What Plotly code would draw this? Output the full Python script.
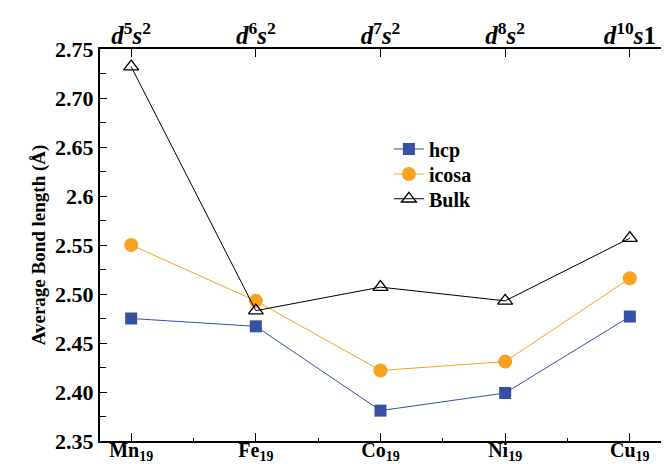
import plotly.graph_objects as go

categories = ["Mn<sub>19</sub>", "Fe<sub>19</sub>", "Co<sub>19</sub>", "Ni<sub>19</sub>", "Cu<sub>19</sub>"]
top_labels = ["<i>d</i><sup>5</sup><i>s</i><sup>2</sup>", "<i>d</i><sup>6</sup><i>s</i><sup>2</sup>",
              "<i>d</i><sup>7</sup><i>s</i><sup>2</sup>", "<i>d</i><sup>8</sup><i>s</i><sup>2</sup>",
              "<i>d</i><sup>10</sup><i>s</i>1"]
hcp = [2.475, 2.467, 2.381, 2.399, 2.477]
icosa = [2.550, 2.493, 2.422, 2.431, 2.516]
bulk = [2.732, 2.483, 2.507, 2.493, 2.557]
ytick_vals = [2.35, 2.40, 2.45, 2.50, 2.55, 2.60, 2.65, 2.70, 2.75]
ytick_text = ["2.35", "2.40", "2.45", "2.50", "2.55", "2.6", "2.65", "2.70", "2.75"]

xi = list(range(len(categories)))
FONT = "Liberation Serif"

fig = go.Figure()
fig.add_trace(go.Scatter(x=xi, y=hcp, name="hcp", mode="lines+markers", legend="legend",
                         line=dict(color="#3550a5", width=1),
                         marker=dict(symbol="square", size=12, color="#3550a5")))
fig.add_trace(go.Scatter(x=xi, y=icosa, name="icosa", mode="lines+markers", legend="legend2",
                         line=dict(color="#f8a21d", width=1),
                         marker=dict(symbol="circle", size=14, color="#f8a21d")))
fig.add_trace(go.Scatter(x=xi, y=bulk, name="Bulk", mode="lines+markers", legend="legend3",
                         line=dict(color="black", width=1),
                         marker=dict(symbol="triangle-up-open", size=13, color="black",
                                     line=dict(width=1.3, color="black"))))

leg_common = dict(x=0.515, xanchor="left", yanchor="middle", bgcolor="rgba(0,0,0,0)",
                  font=dict(size=20, family=FONT, weight="bold", color="black"),
                  itemsizing="trace", itemwidth=30)

fig.update_layout(
    width=669, height=464, autosize=False,
    margin=dict(l=92, r=16, t=41, b=31, pad=0),
    plot_bgcolor="white", paper_bgcolor="white",
    font=dict(family=FONT, size=20, color="black", weight="bold"),
    showlegend=True,
    legend=dict(y=0.745, **leg_common),
    legend2=dict(y=0.681, **leg_common),
    legend3=dict(y=0.618, **leg_common),
    xaxis=dict(range=[-0.25, 4.25], tickvals=xi, ticktext=categories, automargin=False,
               showline=True, linecolor="black", linewidth=2, mirror=False,
               ticks="inside", ticklen=8, tickwidth=1.3, tickcolor="black",
               showgrid=False, zeroline=False, ticklabelstandoff=-10,
               minor=dict(tickvals=[0.5, 1.5, 2.5, 3.5], ticks="inside", ticklen=3, tickcolor="black"),
               tickfont=dict(family=FONT, size=20, weight="bold")),
    xaxis2=dict(range=[-0.25, 4.25], tickvals=xi, ticktext=top_labels, overlaying="x",
                side="top", anchor="y", showline=True, linecolor="black", linewidth=2,
                automargin=False, ticklabelstandoff=-7,
                ticks="inside", ticklen=8, tickwidth=1.3, tickcolor="black",
                showgrid=False, zeroline=False,
                tickfont=dict(family=FONT, size=25, weight="bold")),
    yaxis=dict(range=[2.35, 2.75], tickvals=ytick_vals, ticktext=ytick_text, automargin=False,
               showline=True, linecolor="black", linewidth=2, mirror=True,
               ticks="inside", ticklen=7, tickwidth=1.3, tickcolor="black",
               showgrid=False, zeroline=False,
               minor=dict(dtick=0.025, tick0=2.35, ticks="inside", ticklen=6, tickcolor="black"),
               tickfont=dict(family=FONT, size=22, weight="bold"),
               title=dict(text="Average Bond length (Å)", standoff=4,
                          font=dict(family=FONT, size=19, weight="bold"))),
)
fig.add_trace(go.Scatter(x=xi, y=hcp, xaxis="x2", mode="markers", showlegend=False,
                         marker=dict(opacity=0), hoverinfo="skip"))

fig.write_html("out.html")
